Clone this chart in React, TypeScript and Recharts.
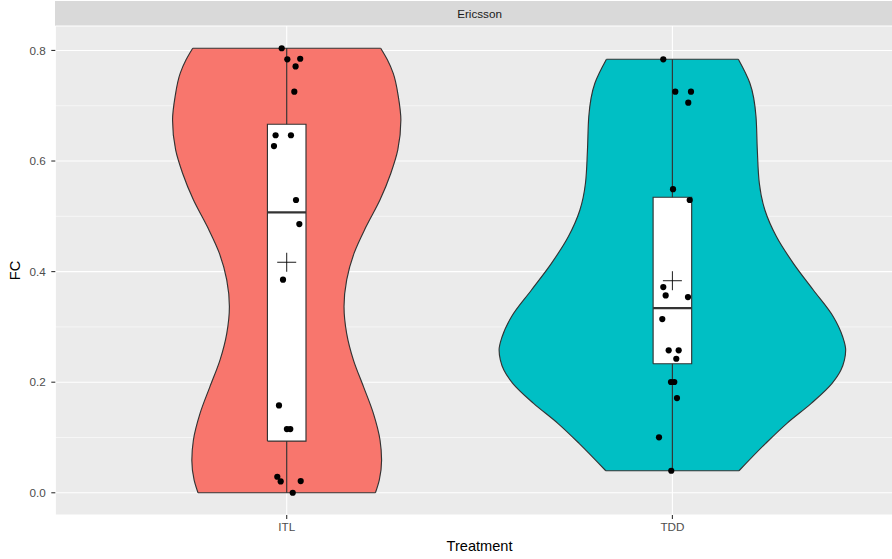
import React from 'react';
import { ComposedChart, Area, Scatter, XAxis, YAxis, CartesianGrid, Label } from 'recharts';

// ---- data ----
const treatments = ['ITL', 'TDD'];
const fills = ['#F8766D', '#00BFC4'];

const itlViolinY = [0, 0.023, 0.059, 0.095, 0.144, 0.192, 0.24, 0.288, 0.337, 0.385, 0.433, 0.481, 0.53, 0.578, 0.62, 0.674, 0.716, 0.759, 0.783, 0.804];
const itlViolinHalfWidth = [0.23, 0.24, 0.246, 0.242, 0.2245, 0.199, 0.173, 0.1555, 0.1486, 0.1555, 0.1745, 0.2056, 0.242, 0.27, 0.288, 0.296, 0.2895, 0.276, 0.261, 0.2437];

const tddViolinY = [0.0398, 0.0894, 0.1256, 0.1617, 0.198, 0.222, 0.24, 0.2582, 0.2822, 0.3184, 0.3667, 0.415, 0.463, 0.511, 0.5597, 0.62, 0.68, 0.7407, 0.784];
const tddViolinHalfWidth = [0.1727, 0.242, 0.297, 0.36, 0.414, 0.437, 0.446, 0.4493, 0.4415, 0.4172, 0.3654, 0.3136, 0.27, 0.24, 0.2254, 0.2202, 0.2168, 0.201, 0.171];

const boxQ1 = [0.0935, 0.2334];
const boxMedian = [0.507, 0.3341];
const boxQ3 = [0.6665, 0.5344];
const whiskerLow = [0.0, 0.0398];
const whiskerHigh = [0.8043, 0.784];
const groupMeans = [0.4169, 0.3835];

const itlPointX = [0.987, 1.0016, 1.035, 1.023, 1.0197, 0.9712, 1.011, 0.967, 1.0241, 1.0327, 0.9904, 0.98, 1.0005, 1.0093, 0.9756, 0.9844, 1.0363, 1.0156];
const itlPointY = [0.804, 0.784, 0.785, 0.771, 0.7255, 0.6466, 0.6466, 0.627, 0.5295, 0.486, 0.3854, 0.158, 0.1152, 0.1152, 0.029, 0.0206, 0.0212, 0.0];

const tddPointX = [1.9764, 2.0075, 2.0482, 2.0412, 2.0016, 2.0449, 1.9764, 1.9826, 2.0404, 1.9738, 1.9904, 2.0163, 2.0101, 1.9964, 2.0049, 2.0119, 1.9653, 1.9971];
const tddPointY = [0.784, 0.7255, 0.7255, 0.7056, 0.549, 0.5295, 0.372, 0.357, 0.354, 0.3142, 0.2576, 0.2576, 0.2424, 0.2003, 0.2003, 0.1713, 0.1002, 0.0398];

const yTicks = [0, 0.2, 0.4, 0.6, 0.8];
const yMinorTicks = [0.1, 0.3, 0.5, 0.7];
const xTicks = [1, 2];

// ---- derived series ----
const BOX_HALF = 0.05;
const FONT = '"Liberation Sans", Arial, Helvetica, sans-serif';
const OUTLINE = '#333333';
const LW = 1.15;

const violinDefs = [
  { ys: itlViolinY, hw: itlViolinHalfWidth },
  { ys: tddViolinY, hw: tddViolinHalfWidth },
];
const violinData = violinDefs.map((v, i) =>
  v.ys.map((y, j) => ({ y, band: [i + 1 - v.hw[j], i + 1 + v.hw[j]] }))
);
const violinCaps = violinDefs.flatMap((v, i) => {
  const c = i + 1;
  const n = v.ys.length - 1;
  return [
    [{ x: c - v.hw[0], y: v.ys[0] }, { x: c + v.hw[0], y: v.ys[0] }],
    [{ x: c - v.hw[n], y: v.ys[n] }, { x: c + v.hw[n], y: v.ys[n] }],
  ];
});
const boxFillData = treatments.map((_, i) => [
  { y: boxQ1[i], band: [i + 1 - BOX_HALF, i + 1 + BOX_HALF] },
  { y: boxQ3[i], band: [i + 1 - BOX_HALF, i + 1 + BOX_HALF] },
]);
const boxOutlines = treatments.map((_, i) => {
  const c = i + 1;
  return [
    { x: c - BOX_HALF, y: boxQ1[i] },
    { x: c + BOX_HALF, y: boxQ1[i] },
    { x: c + BOX_HALF, y: boxQ3[i] },
    { x: c - BOX_HALF, y: boxQ3[i] },
    { x: c - BOX_HALF, y: boxQ1[i] },
  ];
});
const whiskers = treatments.flatMap((_, i) => [
  [{ x: i + 1, y: boxQ3[i] }, { x: i + 1, y: whiskerHigh[i] }],
  [{ x: i + 1, y: whiskerLow[i] }, { x: i + 1, y: boxQ1[i] }],
]);
const medians = treatments.map((_, i) => [
  { x: i + 1 - BOX_HALF, y: boxMedian[i] },
  { x: i + 1 + BOX_HALF, y: boxMedian[i] },
]);
const pointData = [
  ...itlPointX.map((x, j) => ({ x, y: itlPointY[j] })),
  ...tddPointX.map((x, j) => ({ x, y: tddPointY[j] })),
];
const meanData = groupMeans.map((m, i) => ({ x: i + 1, y: m }));

const NoDot = () => <g />;
const Dot = (p: any) => <circle cx={p.cx} cy={p.cy} r={3.1} fill="#000000" />;
const Cross = (p: any) => (
  <g stroke="#000000" strokeWidth={0.9}>
    <line x1={p.cx - 9.5} y1={p.cy} x2={p.cx + 9.5} y2={p.cy} />
    <line x1={p.cx} y1={p.cy - 9.5} x2={p.cx} y2={p.cy + 9.5} />
  </g>
);

export default function App() {
  return (
    <div style={{ position: 'absolute', left: 0, top: 0, width: 892, height: 559, overflow: 'hidden', background: '#ffffff' }}>
      <div
        style={{
          position: 'absolute',
          left: 55.3,
          top: 1,
          width: 848.5,
          height: 25,
          background: '#D9D9D9',
          color: '#1A1A1A',
          fontFamily: FONT,
          fontSize: 11.7,
          lineHeight: '25px',
          textAlign: 'center',
        }}
      >
        Ericsson
      </div>
      <ComposedChart
        layout="vertical"
        width={904}
        height={559}
        margin={{ top: 26, right: 0.2, bottom: 0, left: 0 }}
      >
        <CartesianGrid fill="#EBEBEB" stroke="#FFFFFF" strokeWidth={0.55} vertical={false} horizontalValues={yMinorTicks} />
        <CartesianGrid stroke="#FFFFFF" strokeWidth={1.1} fillOpacity={0} />
        <XAxis
          type="number"
          dataKey="x"
          domain={[0.4, 2.6]}
          allowDataOverflow
          ticks={xTicks}
          interval={0}
          tickFormatter={(v: number) => treatments[Math.round(v) - 1]}
          height={44}
          tickSize={4}
          tickMargin={3.7}
          axisLine={false}
          tickLine={{ stroke: OUTLINE, strokeWidth: 1.1 }}
          tick={{ fill: '#4D4D4D', fontSize: 11.7, fontFamily: FONT }}
        >
          <Label value="Treatment" position="insideBottom" offset={8.3} style={{ fill: '#000000', fontSize: 14.6, fontFamily: FONT }} />
        </XAxis>
        <YAxis
          type="number"
          dataKey="y"
          reversed
          domain={[-0.0402, 0.8442]}
          allowDataOverflow
          ticks={yTicks}
          interval={0}
          tickFormatter={(v: number) => v.toFixed(1)}
          width={55.3}
          tickSize={4}
          tickMargin={5.5}
          axisLine={false}
          tickLine={{ stroke: OUTLINE, strokeWidth: 1.1 }}
          tick={{ fill: '#4D4D4D', fontSize: 11.7, fontFamily: FONT }}
        >
          <Label
            content={(props: any) => {
              const vb = props.viewBox || {};
              const cx = (vb.x || 0) + 15;
              const cy = (vb.y || 0) + (vb.height || 0) / 2;
              return (
                <text
                  x={cx}
                  y={cy}
                  transform={`rotate(-90 ${cx} ${cy})`}
                  textAnchor="middle"
                  dominantBaseline="central"
                  style={{ fill: '#000000', fontSize: 14.6, fontFamily: FONT }}
                >
                  FC
                </text>
              );
            }}
          />
        </YAxis>

        {violinData.map((d, i) => (
          <Area
            key={`violin-${i}`}
            data={d}
            dataKey="band"
            type="monotone"
            fill={fills[i]}
            fillOpacity={1}
            stroke={OUTLINE}
            strokeWidth={LW}
            dot={false}
            activeDot={false}
            isAnimationActive={false}
          />
        ))}
        {boxFillData.map((d, i) => (
          <Area
            key={`boxfill-${i}`}
            data={d}
            dataKey="band"
            type="linear"
            fill="#FFFFFF"
            fillOpacity={1}
            stroke="none"
            dot={false}
            activeDot={false}
            isAnimationActive={false}
          />
        ))}
        {violinCaps.map((d, i) => (
          <Scatter key={`cap-${i}`} data={d} line={{ stroke: OUTLINE, strokeWidth: LW }} lineType="joint" shape={NoDot} isAnimationActive={false} />
        ))}
        {whiskers.map((d, i) => (
          <Scatter key={`wh-${i}`} data={d} line={{ stroke: OUTLINE, strokeWidth: LW }} lineType="joint" shape={NoDot} isAnimationActive={false} />
        ))}
        {boxOutlines.map((d, i) => (
          <Scatter key={`box-${i}`} data={d} line={{ stroke: OUTLINE, strokeWidth: LW }} lineType="joint" shape={NoDot} isAnimationActive={false} />
        ))}
        {medians.map((d, i) => (
          <Scatter key={`med-${i}`} data={d} line={{ stroke: OUTLINE, strokeWidth: 2.3 }} lineType="joint" shape={NoDot} isAnimationActive={false} />
        ))}
        <Scatter data={pointData} shape={Dot} isAnimationActive={false} />
        <Scatter data={meanData} shape={Cross} isAnimationActive={false} />
      </ComposedChart>
    </div>
  );
}
